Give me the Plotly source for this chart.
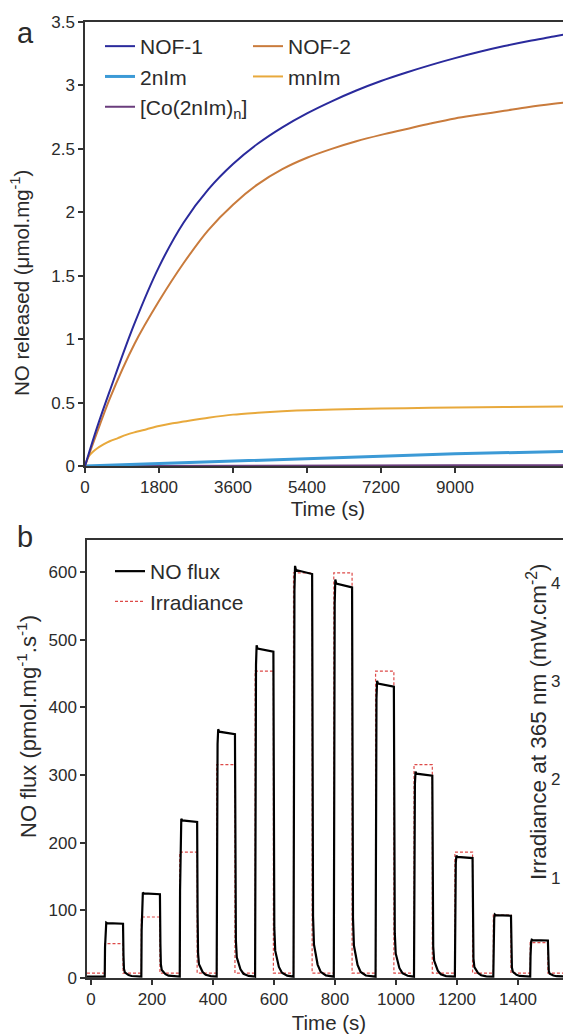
import plotly.graph_objects as go

# The page puts the figure 8 px in from the top-left corner of a 571x1035 window.
WIN_W, WIN_H, OFF = 571, 1035, 8
W, H = WIN_W - OFF, WIN_H - OFF

# ---------------- panel a: cumulative NO released ----------------
t_a = [0, 300, 600, 1200, 1800, 2400, 3000, 3600, 4200, 4800, 5400, 6000, 6600, 7200,
       7800, 8400, 9000, 9600, 10200, 10800, 11400, 11800]
nof1 = [0, 0.31, 0.59, 1.12, 1.57, 1.92, 2.18, 2.38, 2.54, 2.67, 2.78, 2.875, 2.96, 3.035,
        3.10, 3.16, 3.215, 3.265, 3.31, 3.35, 3.385, 3.41]
nof2 = [0, 0.27, 0.53, 0.96, 1.30, 1.60, 1.86, 2.06, 2.22, 2.34, 2.43, 2.50, 2.56, 2.61,
        2.655, 2.70, 2.74, 2.77, 2.80, 2.83, 2.855, 2.87]
t_mn = [0, 50, 100, 200, 300, 450, 600, 800, 1000, 1200, 1500, 1800, 2100, 2400, 3000,
        3600, 4200, 4800, 5400, 6600, 7800, 9000, 10200, 11800]
mnim = [0, 0.05, 0.08, 0.115, 0.14, 0.17, 0.195, 0.22, 0.245, 0.265, 0.29, 0.315, 0.335,
        0.35, 0.38, 0.405, 0.42, 0.432, 0.44, 0.45, 0.456, 0.461, 0.465, 0.47]
t_2n = [0, 1800, 3600, 5400, 7200, 9000, 11800]
nim2 = [0, 0.02, 0.04, 0.06, 0.08, 0.097, 0.115]
co2nim = [0, 0.002, 0.003, 0.004, 0.004, 0.005, 0.005]
xticks_a = [0, 1800, 3600, 5400, 7200, 9000]
yticks_a = [0, 0.5, 1, 1.5, 2, 2.5, 3, 3.5]

# ---------------- panel b: NO flux under pulsed irradiance ----------------
pulse_on = [45, 165, 291, 412, 538, 664, 796, 933, 1059, 1193, 1319, 1440]
pulse_off = [105, 226, 348, 472, 598, 725, 856, 993, 1119, 1251, 1377, 1498]
flux_peak = [81, 125, 233, 364, 487, 603, 583, 435, 302, 179, 93, 56]
irr_level = [0.33, 0.60, 1.26, 2.15, 3.10, 4.10, 4.10, 3.10, 2.15, 1.26, 0.62, 0.34]
flux_base = 2
irr_base = 0.03
# detector response (seconds after edge, fraction of plateau)
rise_dt = [0, 1, 2, 3, 5, 8]
rise_frac = [0, 0.55, 0.85, 0.95, 1.01, 1.0]
plateau_end_frac = 0.99
fall_dt = [0, 1.5, 3, 6, 11, 18, 28, 45]
fall_frac = [1, 0.4, 0.15, 0.08, 0.055, 0.03, 0.012, 0.003]
xticks_b = [0, 200, 400, 600, 800, 1000, 1200, 1400]
yticks_b = [0, 100, 200, 300, 400, 500, 600]
yticks_irr = [1, 2, 3, 4]

# ---------------- geometry (window pixels) ----------------
a_left, a_top, a_bot = 85, 22, 466
b_left, b_top, b_bot = 87, 540, 978
a_range = [0, (WIN_W - a_left) / ((455 - a_left) / 9000)]
pxs_b = (518 - 91) / 1400
b_range = [-(91 - b_left) / pxs_b, (WIN_W - 91) / pxs_b]


def px(x):
    return (x - OFF) / W


def py(y):
    return 1 - (y - OFF) / H


# flux trace assembled from the per-pulse readings
tf, ff = [b_range[0]], [flux_base]
for on, off, pk in zip(pulse_on, pulse_off, flux_peak):
    for dt, fr in zip(rise_dt, rise_frac):
        tf.append(on + dt)
        ff.append(flux_base + (pk - flux_base) * fr)
    top_end = pk * plateau_end_frac
    for dt, fr in zip(fall_dt, fall_frac):
        tf.append(off + dt)
        ff.append(flux_base + (top_end - flux_base) * fr)
tf.append(b_range[1])
ff.append(flux_base)

# irradiance square wave
ti, ii = [b_range[0]], [irr_base]
for on, off, lv in zip(pulse_on, pulse_off, irr_level):
    ti += [on, on, off, off]
    ii += [irr_base, lv, lv, irr_base]
ti.append(b_range[1])
ii.append(irr_base)

FONT = "Liberation Sans, Arial, sans-serif"
TXT = "#2b2b2b"
LEGF = dict(family=FONT, size=21, color=TXT)

fig = go.Figure()
fig.add_trace(go.Scatter(x=t_2n, y=co2nim, name="[Co(2nIm)<sub>n</sub>]", mode="lines",
                         line=dict(color="#6a3d7c", width=2), xaxis="x", yaxis="y",
                         legend="legend", legendrank=3))
fig.add_trace(go.Scatter(x=t_2n, y=nim2, name="2nIm", mode="lines",
                         line=dict(color="#3c9ad6", width=3), xaxis="x", yaxis="y",
                         legend="legend", legendrank=2))
fig.add_trace(go.Scatter(x=t_mn, y=mnim, name="mnIm", mode="lines",
                         line=dict(color="#e8a93c", width=2, shape="spline", smoothing=0.8),
                         xaxis="x", yaxis="y", legend="legend2", legendrank=2))
fig.add_trace(go.Scatter(x=t_a, y=nof2, name="NOF-2", mode="lines",
                         line=dict(color="#c97b3c", width=2, shape="spline", smoothing=1.0),
                         xaxis="x", yaxis="y", legend="legend2", legendrank=1))
fig.add_trace(go.Scatter(x=t_a, y=nof1, name="NOF-1", mode="lines",
                         line=dict(color="#2a2a9c", width=2, shape="spline", smoothing=1.0),
                         xaxis="x", yaxis="y", legend="legend", legendrank=1))
fig.add_trace(go.Scatter(x=ti, y=ii, name="Irradiance", mode="lines",
                         line=dict(color="#dd4a48", width=1.2, dash="3px,2px"),
                         xaxis="x2", yaxis="y2", legend="legend3", legendrank=2))
fig.add_trace(go.Scatter(x=tf, y=ff, name="NO flux", mode="lines",
                         line=dict(color="#000000", width=2.2),
                         xaxis="x2", yaxis="y3", legend="legend3", legendrank=1))

axis_common = dict(showgrid=False, zeroline=False, showline=True, linecolor="#333333",
                   linewidth=1.5, ticks="outside", ticklen=5, tickwidth=1.5, tickcolor="#333333",
                   tickfont=dict(family=FONT, size=17, color=TXT), automargin=False)
TFONT = dict(size=20.5, family=FONT, color=TXT)


def ann(text, x, y, size, angle=0):
    return dict(text=text, x=px(x), y=py(y), xref="paper", yref="paper", showarrow=False,
                xanchor="center", yanchor="middle", textangle=angle,
                font=dict(family=FONT, size=size, color=TXT))


fig.update_layout(
    width=W, height=H, margin=dict(l=0, r=0, t=0, b=0, autoexpand=False),
    paper_bgcolor="white", plot_bgcolor="white",
    font=dict(family=FONT, color=TXT),
    xaxis=dict(axis_common, domain=[px(a_left), 1], anchor="y", range=a_range,
               tickvals=xticks_a, mirror=True,
               title=dict(text="Time (s)", font=TFONT, standoff=3)),
    yaxis=dict(axis_common, domain=[py(a_bot), py(a_top)], anchor="x", range=[0, 3.5],
               tickvals=yticks_a, ticktext=[f"{v:g}" for v in yticks_a]),
    xaxis2=dict(axis_common, domain=[px(b_left), 1], anchor="y2", range=b_range,
                tickvals=xticks_b, mirror=True,
                title=dict(text="Time (s)", font=TFONT, standoff=7)),
    yaxis2=dict(domain=[py(b_bot), py(b_top)], anchor="free", position=px(550), side="right",
                range=[-(980 - b_bot) / 99.25, (980 - b_top) / 99.25],
                showgrid=False, zeroline=False, showline=False, ticks="", automargin=False,
                tickvals=yticks_irr, tickfont=dict(family=FONT, size=17, color=TXT)),
    yaxis3=dict(axis_common, overlaying="y2", anchor="x2", side="left",
                range=[0, (b_bot - b_top) / ((b_bot - 572) / 600)], tickvals=yticks_b),
    legend=dict(x=px(100), y=py(26), xanchor="left", yanchor="top", bgcolor="rgba(0,0,0,0)",
                font=LEGF, tracegroupgap=0),
    legend2=dict(x=px(248), y=py(26), xanchor="left", yanchor="top", bgcolor="rgba(0,0,0,0)",
                 font=LEGF, tracegroupgap=0),
    legend3=dict(x=px(110), y=py(551), xanchor="left", yanchor="top", bgcolor="rgba(0,0,0,0)",
                 font=LEGF, tracegroupgap=0),
    annotations=[
        ann("a", 25, 33, 29),
        ann("b", 25, 537, 29),
        ann("NO released (μmol.mg<sup>-1</sup>)", 20, 283, 20.5, -90),
        ann("NO flux (pmol.mg<sup>-1</sup>.s<sup>-1</sup>)", 27, 727, 22, -90),
        ann("Irradiance at 365 nm (mW.cm<sup>-2</sup>)", 537, 722, 22.5, -90),
    ],
)

fig.write_html("out.html")
